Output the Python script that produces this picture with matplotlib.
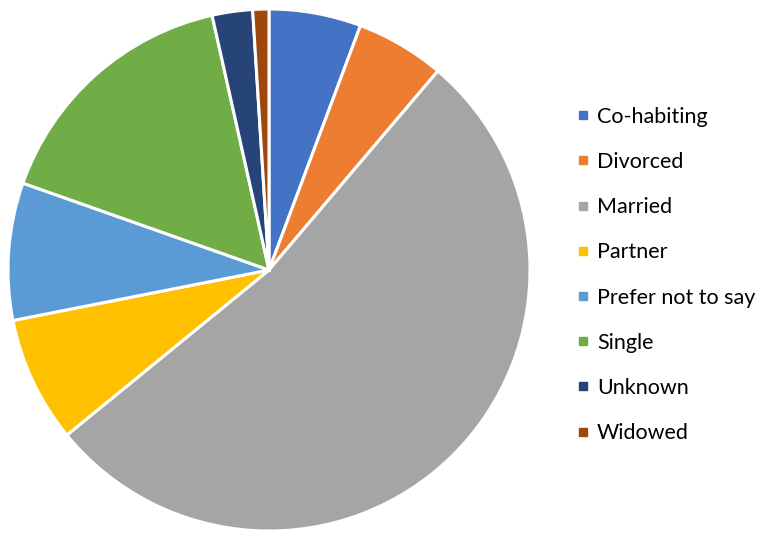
import matplotlib.pyplot as plt
from matplotlib.lines import Line2D

plt.rcParams['font.family'] = ['Lato', 'DejaVu Sans']

# Marital status shares (%)
labels = ["Co-habiting", "Divorced", "Married", "Partner",
          "Prefer not to say", "Single", "Unknown", "Widowed"]
values = [5.7, 5.5, 52.9, 7.8, 8.5, 16.1, 2.5, 1.0]
colors = ["#4472C4", "#ED7D31", "#A5A5A5", "#FFC000",
          "#5B9BD5", "#70AD47", "#264478", "#9E480E"]

fig = plt.figure(figsize=(7.76, 5.4), dpi=100)
ax = fig.add_axes([8 / 776, 9 / 540, 522 / 776, 522 / 540])
ax.pie(values, colors=colors, startangle=90, counterclock=False,
       wedgeprops=dict(edgecolor='white', linewidth=2.2))
ax.set_xlim(-1, 1)
ax.set_ylim(-1, 1)
ax.set_aspect('equal')

handles = [Line2D([], [], marker='s', linestyle='none', markersize=6,
                  markerfacecolor=c, markeredgecolor=c) for c in colors]
fig.legend(handles, labels, loc='center left', bbox_to_anchor=(554 / 776, 265 / 540),
           frameon=False, fontsize=15.5, labelspacing=1.17, handletextpad=0.2,
           handlelength=0.9)

fig.savefig('out.png', dpi=100)
